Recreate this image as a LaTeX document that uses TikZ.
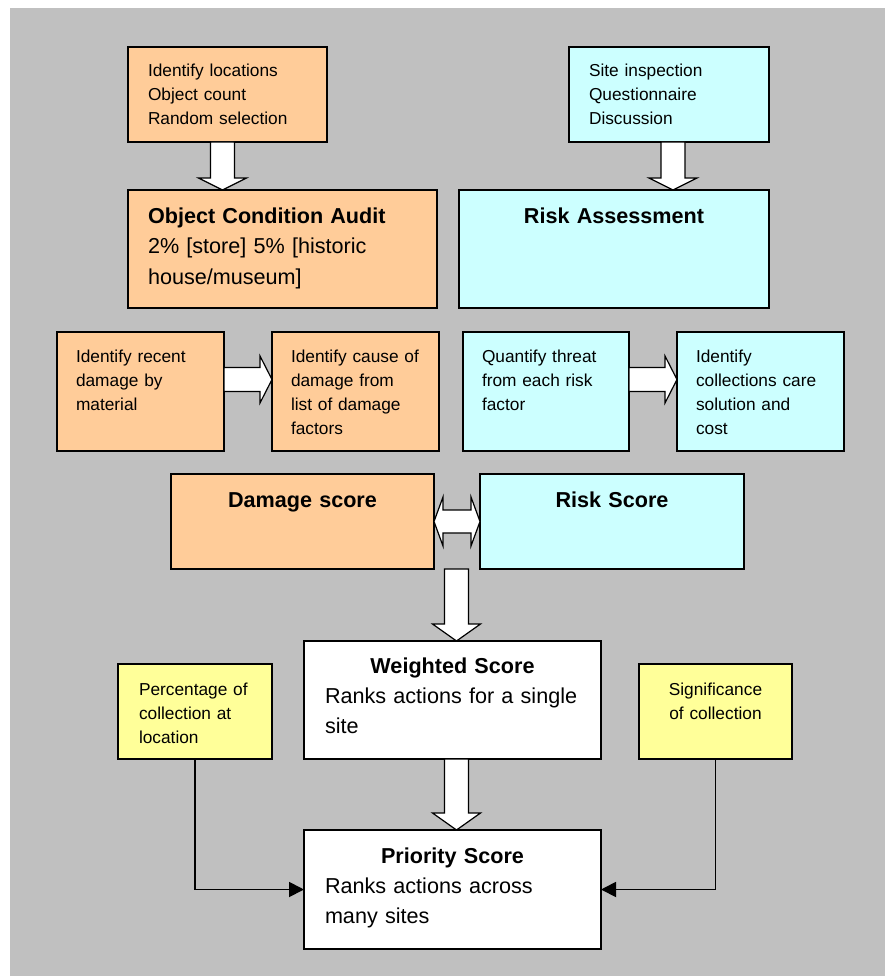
\documentclass[tikz,border=0pt]{standalone}
\usepackage{fontspec}
\setmainfont{Liberation Sans}
\usetikzlibrary{positioning, arrows.meta, calc}

\definecolor{bggray}{HTML}{C0C0C0}
\definecolor{auditorange}{HTML}{FFCC99}
\definecolor{riskcyan}{HTML}{CCFFFF}
\definecolor{noteyellow}{HTML}{FFFF99}

% hollow block arrows: #1 start, #2 target, #3 half shaft, #4 half head, #5 head length
\newcommand{\fatdown}[5]{%
  \draw[fatarrow] let \p1=#1, \p2=#2 in
    (\x1-#3,\y1) -- (\x1-#3,\y2+#5) -- (\x1-#4,\y2+#5) -- (\x1,\y2)
    -- (\x1+#4,\y2+#5) -- (\x1+#3,\y2+#5) -- (\x1+#3,\y1) -- cycle;}
\newcommand{\fatright}[5]{%
  \draw[fatarrow] let \p1=#1, \p2=#2 in
    (\x1,\y1+#3) -- (\x2-#5,\y1+#3) -- (\x2-#5,\y1+#4) -- (\x2,\y1)
    -- (\x2-#5,\y1-#4) -- (\x2-#5,\y1-#3) -- (\x1,\y1-#3) -- cycle;}
\newcommand{\fatboth}[5]{%
  \draw[fatarrow] let \p1=#1, \p2=#2 in
    (\x1,\y1) -- (\x1+#5,\y1+#4) -- (\x1+#5,\y1+#3) -- (\x2-#5,\y1+#3)
    -- (\x2-#5,\y1+#4) -- (\x2,\y1) -- (\x2-#5,\y1-#4) -- (\x2-#5,\y1-#3)
    -- (\x1+#5,\y1-#3) -- (\x1+#5,\y1-#4) -- cycle;}

\begin{document}
\begin{tikzpicture}[
  x=1pt, y=-1pt,
  box/.style={draw, line width=1.3pt, anchor=north west, align=left, inner xsep=20pt, inner ysep=0pt, outer sep=0pt},
  small/.style={font=\fontsize{17.3}{24}\selectfont},
  large/.style={font=\fontsize{21.6}{30}\selectfont},
  orbox/.style={box, fill=auditorange},
  cybox/.style={box, fill=riskcyan},
  yebox/.style={box, fill=noteyellow},
  whbox/.style={box, fill=white},
  rowbox/.style={small, inner xsep=19pt, text width=129pt, text height=30pt, text depth=89pt},
  fatarrow/.style={draw, fill=white, line width=1.2pt, line join=miter},
  link/.style={line width=1.8pt, -{Triangle[length=15pt, width=15pt]}}
]

% background
\fill[bggray] (10,8) rectangle (885,976);
\useasboundingbox (0,0) rectangle (885,976);

% audit column
\node[orbox, small, text width=159pt, text height=30pt, text depth=65pt] (loc) at (128,47)
  {Identify locations\\ Object count\\ Random selection};
\node[orbox, large, text width=269pt, text height=34pt, text depth=84pt] (oca) at (128,190)
  {\textbf{Object Condition Audit}\\ 2\% [store] 5\% [historic\\ house/museum]};

% risk column
\node[cybox, small, text width=160pt, text height=30pt, text depth=65pt] (site) at (569,47)
  {Site inspection\\ Questionnaire\\ Discussion};
\node[cybox, large, align=center, text width=270pt, text height=34pt, text depth=84pt] (risk) at (459,190)
  {\textbf{Risk Assessment}};

% damage and threat steps
\node[orbox, rowbox] (ra) at (57,332) {Identify recent\\ damage by\\ material};
\node[orbox, rowbox, right=48pt of ra] (rb) {Identify cause of\\ damage from\\ list of damage\\ factors};
\node[cybox, rowbox, text width=128pt] (rc) at (463,332) {Quantify threat\\ from each risk\\ factor};
\node[cybox, rowbox, right=48pt of rc] (rd) {Identify\\ collections care\\ solution and\\ cost};

% scores
\node[orbox, large, align=center, text width=223pt, text height=33pt, text depth=62pt] (dmg) at (171,474)
  {\textbf{Damage score}};
\node[cybox, large, align=center, text width=224pt, text height=33pt, text depth=62pt, right=46pt of dmg] (rsk)
  {\textbf{Risk Score}};

% weighted and priority
\node[whbox, large, inner xsep=21pt, text width=255pt, text height=32pt, text depth=86pt] (weighted) at (304,641)
  {{\centering\textbf{Weighted Score}\par}Ranks actions for a single\\ site};
\node[whbox, large, inner xsep=21pt, text width=255pt, text height=33pt, text depth=86pt] (priority) at (304,830)
  {{\centering\textbf{Priority Score}\par}Ranks actions across\\ many sites};

% side factors
\node[yebox, small, inner xsep=21pt, text width=112pt, text height=31pt, text depth=64pt] (pct) at (118,664)
  {Percentage of\\ collection at\\ location};
\node[yebox, small, align=center, text width=113pt, text height=31pt, text depth=64pt] (sig) at (639,664)
  {Significance\\ of collection};

% block arrows
\fatdown{([xshift=-5pt]loc.south)}{(oca.north)}{12pt}{24pt}{12pt}
\fatdown{([xshift=4pt]site.south)}{(risk.north)}{12pt}{24pt}{12pt}
\fatright{([yshift=12pt]ra.east)}{(rb.west)}{12pt}{23.5pt}{12pt}
\fatright{([yshift=12pt]rc.east)}{(rd.west)}{12pt}{23.5pt}{12pt}
\fatboth{(dmg.east)}{(rsk.west)}{11.5pt}{24.5pt}{9pt}
\fatdown{($(weighted.north |- dmg.south)+(4,0)$)}{(weighted.north)}{12pt}{24pt}{17pt}
\fatdown{([xshift=4pt]weighted.south)}{(priority.north)}{12pt}{24pt}{17pt}

% factor links
\draw[link] (pct.south) |- (priority.west);
\draw[link] (sig.south) |- (priority.east);

\end{tikzpicture}
\end{document}
